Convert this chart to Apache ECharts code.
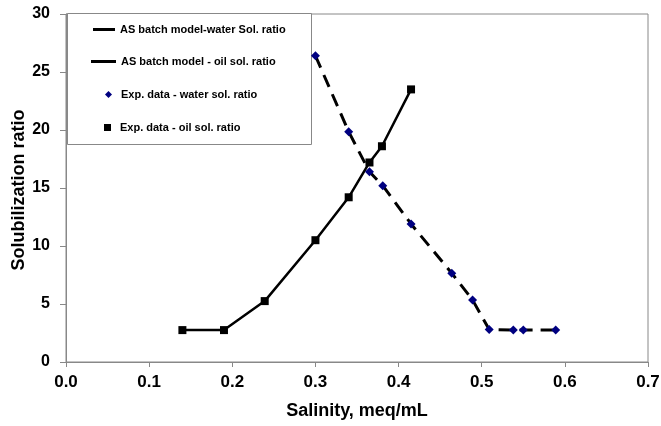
<!DOCTYPE html>
<html>
<head>
<meta charset="utf-8">
<script src="https://cdn.jsdelivr.net/npm/echarts@6/dist/echarts.min.js"></script>
<style>
  html, body { margin: 0; padding: 0; background: #fff; }
  #chart { width: 661px; height: 426px; }
</style>
</head>
<body>
<div id="chart"></div>
<script>
// water solubilization ratio (model + experiment share the same points)
var waterSalinity = [0.30, 0.34, 0.365, 0.381, 0.415, 0.464, 0.489, 0.509, 0.538, 0.55, 0.589];
var waterRatio = [26.4, 19.85, 16.4, 15.2, 11.9, 7.65, 5.35, 2.8, 2.75, 2.75, 2.75];
// oil solubilization ratio
var oilSalinity = [0.14, 0.19, 0.239, 0.30, 0.34, 0.365, 0.38, 0.415];
var oilRatio = [2.75, 2.75, 5.25, 10.5, 14.2, 17.2, 18.6, 23.5];

var names = [
    'AS batch model-water Sol. ratio',
    'AS batch model - oil sol. ratio',
    'Exp. data - water sol. ratio',
    'Exp. data - oil sol. ratio'
];
var yTitle = 'Solubilization ratio';

function pairs(xs, ys) {
    return xs.map(function (x, i) { return [x, ys[i]]; });
}

var chart = echarts.init(document.getElementById('chart'));
var font = 'Liberation Sans, Arial, sans-serif';
var legendText = { fontFamily: font, fontSize: 11, fontWeight: 'bold', color: '#000' };
var markerText = { fontFamily: font, fontSize: 11, fontWeight: 'bold', color: '#000', padding: [0, 0, 0, 4] };

var option = {
    animation: false,
    grid: {
        left: 66, right: 13, top: 14, bottom: 64,
        containLabel: false, outerBoundsMode: 'none',
        show: true, borderColor: '#888', borderWidth: 1
    },
    graphic: [
        {
            type: 'rect',
            shape: { x: 67.5, y: 13.5, width: 244, height: 131 },
            style: { fill: '#fff', stroke: '#888', lineWidth: 1 },
            z: 1
        },
        // y axis title
        {
            type: 'text',
            x: 19, y: 190,
            rotation: Math.PI / 2,
            style: {
                text: yTitle,
                font: 'bold 18px Liberation Sans, Arial, sans-serif',
                fill: '#000',
                textAlign: 'center',
                textVerticalAlign: 'middle'
            },
            z: 5
        }
    ],
    legend: [
        { data: [names[0]], left: 93, top: 24, padding: 0, icon: 'rect', itemWidth: 22, itemHeight: 3,
          selectedMode: false, textStyle: legendText, z: 5 },
        { data: [names[1]], left: 91, top: 56, padding: 0, icon: 'rect', itemWidth: 25, itemHeight: 3,
          selectedMode: false, textStyle: legendText, z: 5 },
        { data: [{ name: names[2], icon: 'diamond' }], left: 105, top: 89, padding: 0, itemWidth: 7, itemHeight: 7,
          selectedMode: false, textStyle: markerText, z: 5 },
        { data: [{ name: names[3], icon: 'rect' }], left: 104, top: 122, padding: 0, itemWidth: 7, itemHeight: 7,
          selectedMode: false, textStyle: markerText, z: 5 }
    ],
    xAxis: {
        type: 'value',
        min: 0, max: 0.7, interval: 0.1,
        name: 'Salinity, meq/mL',
        nameLocation: 'middle',
        nameGap: 40,
        nameTextStyle: { fontFamily: font, fontSize: 18, fontWeight: 'bold', color: '#000' },
        axisLine: { lineStyle: { color: '#888' } },
        axisTick: { inside: false, length: 5, lineStyle: { color: '#888' } },
        axisLabel: {
            fontFamily: font, fontSize: 17, fontWeight: 'bold', color: '#000', margin: 12,
            formatter: function (v) { return v.toFixed(1); }
        },
        splitLine: { show: false }
    },
    yAxis: {
        type: 'value',
        min: 0, max: 30, interval: 5,
        axisLine: { show: true, lineStyle: { color: '#888' } },
        axisTick: { show: true, inside: false, length: 6, lineStyle: { color: '#888' } },
        axisLabel: { fontFamily: font, fontSize: 16, fontWeight: 'bold', color: '#000', margin: 16 },
        splitLine: { show: false }
    },
    series: [
        {
            name: names[0], type: 'line', data: pairs(waterSalinity, waterRatio),
            symbol: 'none', color: '#000',
            lineStyle: { color: '#000', width: 3, type: [13, 8] }, z: 2
        },
        {
            name: names[1], type: 'line', data: pairs(oilSalinity, oilRatio),
            symbol: 'none', color: '#000',
            lineStyle: { color: '#000', width: 2.5 }, z: 2
        },
        {
            name: names[2], type: 'scatter', data: pairs(waterSalinity, waterRatio),
            symbol: 'diamond', symbolSize: 9, itemStyle: { color: '#000080', opacity: 1 }, z: 4
        },
        {
            name: names[3], type: 'scatter', data: pairs(oilSalinity, oilRatio),
            symbol: 'rect', symbolSize: 8, itemStyle: { color: '#000', opacity: 1 }, z: 3
        }
    ]
};
chart.setOption(option);
</script>
</body>
</html>
